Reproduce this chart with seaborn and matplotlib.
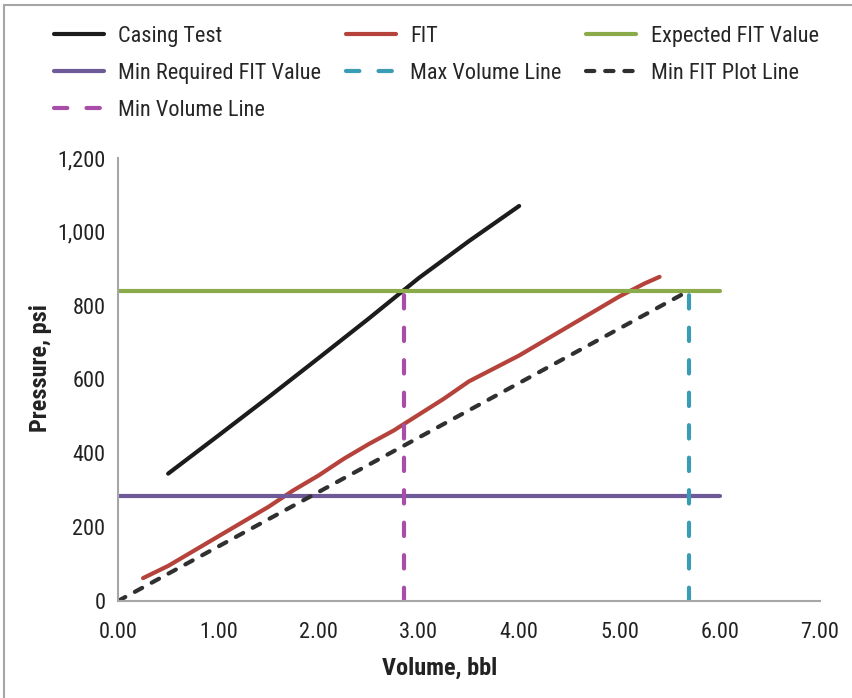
import matplotlib
matplotlib.use("Agg")
import matplotlib.pyplot as plt
import matplotlib.ticker as mticker
from matplotlib.lines import Line2D
import seaborn as sns
import pandas as pd

# ---- data ----
casing_x = [0.5, 1.0, 1.5, 2.0, 2.5, 3.0, 3.5, 4.0]
casing_y = [345, 448, 552, 658, 765, 875, 975, 1070]

fit_x = [0.25, 0.5, 0.75, 1.0, 1.25, 1.5, 1.75, 2.0, 2.25, 2.5, 2.75, 3.0,
         3.25, 3.5, 3.75, 4.0, 4.25, 4.5, 4.75, 5.0, 5.25, 5.4]
fit_y = [62, 95, 135, 175, 215, 255, 300, 340, 385, 425, 462, 505,
         548, 595, 630, 665, 705, 745, 785, 825, 860, 878]

expected_x = [0.0, 6.0]
expected_y = [840, 840]

minreq_x = [0.0, 6.0]
minreq_y = [285, 285]

maxvol_x = [5.69, 5.69]
maxvol_y = [0, 840]

minfit_x = [0.0, 5.69]
minfit_y = [0, 840]

minvol_x = [2.85, 2.85]
minvol_y = [0, 840]

x_ticks = [0, 1, 2, 3, 4, 5, 6, 7]
y_ticks = [0, 200, 400, 600, 800, 1000, 1200]

sns.set_theme(style="white")
REG = ['Roboto Condensed', 'Archivo Narrow', 'IBM Plex Sans Condensed', 'DejaVu Sans']
BOLD = ['Roboto Condensed', 'IBM Plex Sans Condensed', 'Archivo Narrow', 'DejaVu Sans']
plt.rcParams['font.family'] = REG

fig = plt.figure(figsize=(8.53, 6.98), dpi=100)
ax = fig.add_axes([118/853, 1-601/698, (820-118)/853, (601-158)/698])

LW = 3.0
series = [
    ("Casing Test", casing_x, casing_y, "#1c1c1c", "-"),
    ("FIT", fit_x, fit_y, "#b5433c", "-"),
    ("Expected FIT Value", expected_x, expected_y, "#8baa4a", "-"),
    ("Min Required FIT Value", minreq_x, minreq_y, "#6e5a98", "-"),
    ("Max Volume Line", maxvol_x, maxvol_y, "#3a9bb5", (0, (3.2, 4.6))),
    ("Min FIT Plot Line", minfit_x, minfit_y, "#303030", (0, (2.0, 2.6))),
    ("Min Volume Line", minvol_x, minvol_y, "#a84ea8", (0, (3.2, 4.6))),
]

for name, xs, ys, col, ls in series:
    df = pd.DataFrame({"x": xs, "y": ys})
    sns.lineplot(data=df, x="x", y="y", ax=ax, estimator=None, sort=False,
                 color=col, linewidth=LW, linestyle=ls, label=name,
                 dash_capstyle="round", solid_capstyle="round")

ax.set_xlim(0, 7)
ax.set_ylim(0, 1200)
ax.set_xticks(x_ticks)
ax.set_yticks(y_ticks)
ax.xaxis.set_major_formatter(mticker.FuncFormatter(lambda v, p: f"{v:.2f}"))
ax.yaxis.set_major_formatter(mticker.FuncFormatter(lambda v, p: f"{v:,.0f}"))
ax.tick_params(axis="both", length=0, labelsize=16, colors="#222222")
ax.tick_params(axis="x", pad=15)
ax.tick_params(axis="y", pad=9)

for s in ["top", "right"]:
    ax.spines[s].set_visible(False)
for s in ["left", "bottom"]:
    ax.spines[s].set_color("#a6a6a6")
    ax.spines[s].set_linewidth(1.5)
ax.grid(False)

ax.set_xlabel("Volume, bbl", fontsize=17.5, fontweight="bold", color="#222222", family=BOLD)
ax.set_ylabel("Pressure, psi", fontsize=17.5, fontweight="bold", color="#222222", family=BOLD)
ax.xaxis.label.set_va("center")
ax.xaxis.set_label_coords((440-118)/702, -67/443)
ax.yaxis.label.set_va("center")
ax.yaxis.set_label_coords((40-118)/702, (601-368)/443)

handles, labels = ax.get_legend_handles_labels()
if ax.get_legend():
    ax.get_legend().remove()
order = [0, 3, 6, 1, 4, 2, 5]
fig.legend([handles[i] for i in order], [labels[i] for i in order],
           loc="upper left", bbox_to_anchor=(54/853, 1-26/698), ncol=3,
           frameon=False, fontsize=16, handlelength=2.25, handletextpad=0.65,
           columnspacing=1.1, labelspacing=0.72, borderpad=0, borderaxespad=0)

# outer border (left and top visible)
fig.add_artist(Line2D([4/853, 4/853], [0, 1-5/698], transform=fig.transFigure,
                      color="#a6a6a6", linewidth=1.5))
fig.add_artist(Line2D([4/853, 1], [1-5/698, 1-5/698], transform=fig.transFigure,
                      color="#a6a6a6", linewidth=1.5))

fig.savefig("out.png", dpi=100)
